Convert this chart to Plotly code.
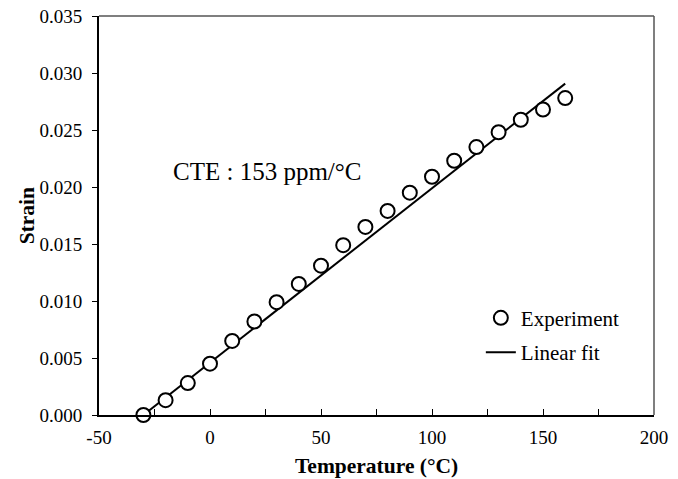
import plotly.graph_objects as go

# Measured thermal strain
temperature = [-30, -20, -10, 0, 10, 20, 30, 40, 50, 60, 70, 80, 90, 100, 110, 120, 130, 140, 150, 160]
strain = [0.0000, 0.0013, 0.0028, 0.0045, 0.0065, 0.0082, 0.0099, 0.0115, 0.0131, 0.0149,
          0.0165, 0.0179, 0.0195, 0.0209, 0.0223, 0.0235, 0.0248, 0.0259, 0.0268, 0.0278]

# Linear fit: slope equals the CTE (ppm/°C)
cte_ppm = 153
fit_x = [temperature[0], temperature[-1]]
fit_y = [cte_ppm * 1e-6 * (t - temperature[0]) for t in fit_x]

x_ticks = [-50, 0, 50, 100, 150, 200]
y_ticks = [0.000, 0.005, 0.010, 0.015, 0.020, 0.025, 0.030, 0.035]

FONT = "Liberation Serif, Times New Roman, serif"

fig = go.Figure()
fig.add_trace(go.Scatter(
    x=fit_x, y=fit_y, mode="lines", name="Linear fit",
    line=dict(color="black", width=2), legendgroup="b", legendrank=2,
))
fig.add_trace(go.Scatter(
    x=temperature, y=strain, mode="markers", name="Experiment",
    marker=dict(symbol="circle", size=14, color="white",
                line=dict(color="black", width=2)),
    legendgroup="a", legendrank=1, cliponaxis=False,
))

fig.add_annotation(
    x=-17.5, y=0.0214, xref="x", yref="y", xanchor="left", yanchor="middle",
    text=f"CTE : {cte_ppm} ppm/°C", showarrow=False,
    font=dict(family=FONT, size=25, color="black"),
)

# Thin grey frame on the top and right sides
fig.add_shape(type="line", xref="paper", yref="paper", x0=0, x1=1, y0=1, y1=1,
              line=dict(color="#555555", width=1.5))
fig.add_shape(type="line", xref="paper", yref="paper", x0=1, x1=1, y0=0, y1=1,
              line=dict(color="#555555", width=1.5))

# Axis titles placed as free text so the plot area stays fixed
fig.add_annotation(
    x=0.5, y=-0.128, xref="paper", yref="paper", xanchor="center", yanchor="middle",
    text="<b>Temperature (°C)</b>", showarrow=False,
    font=dict(family=FONT, size=21.5, color="black"),
)
fig.add_annotation(
    x=-0.13, y=0.5, xref="paper", yref="paper", xanchor="center", yanchor="middle",
    text="<b>Strain</b>", showarrow=False, textangle=-90,
    font=dict(family=FONT, size=21.5, color="black"),
)

fig.update_layout(
    width=678, height=479,
    margin=dict(l=99, r=24, t=16, b=64),
    paper_bgcolor="white", plot_bgcolor="white",
    font=dict(family=FONT, size=19, color="black"),
    showlegend=True,
    legend=dict(
        x=0.688, y=0.2, xanchor="left", yanchor="middle",
        bgcolor="rgba(0,0,0,0)", font=dict(family=FONT, size=21),
        tracegroupgap=4, itemwidth=30,
    ),
    xaxis=dict(
        range=[-50, 200], tickvals=x_ticks, ticktext=[str(v) for v in x_ticks],
        showgrid=False, zeroline=False, showline=True, linecolor="black", linewidth=2,
        ticks="inside", ticklen=6, tickcolor="black", tickwidth=1,
        minor=dict(dtick=25, ticks="inside", ticklen=6, tickcolor="black", tickwidth=1),
        tickfont=dict(family=FONT, size=19), ticklabelstandoff=4, automargin=False,
    ),
    yaxis=dict(
        range=[0, 0.035], tickvals=y_ticks, ticktext=[f"{v:.3f}" for v in y_ticks],
        showgrid=False, zeroline=False, showline=True, linecolor="black", linewidth=2,
        ticks="outside", ticklen=5, tickcolor="black", tickwidth=1,
        tickfont=dict(family=FONT, size=19), ticklabelstandoff=6, automargin=False,
    ),
)

fig.write_html("out.html")
